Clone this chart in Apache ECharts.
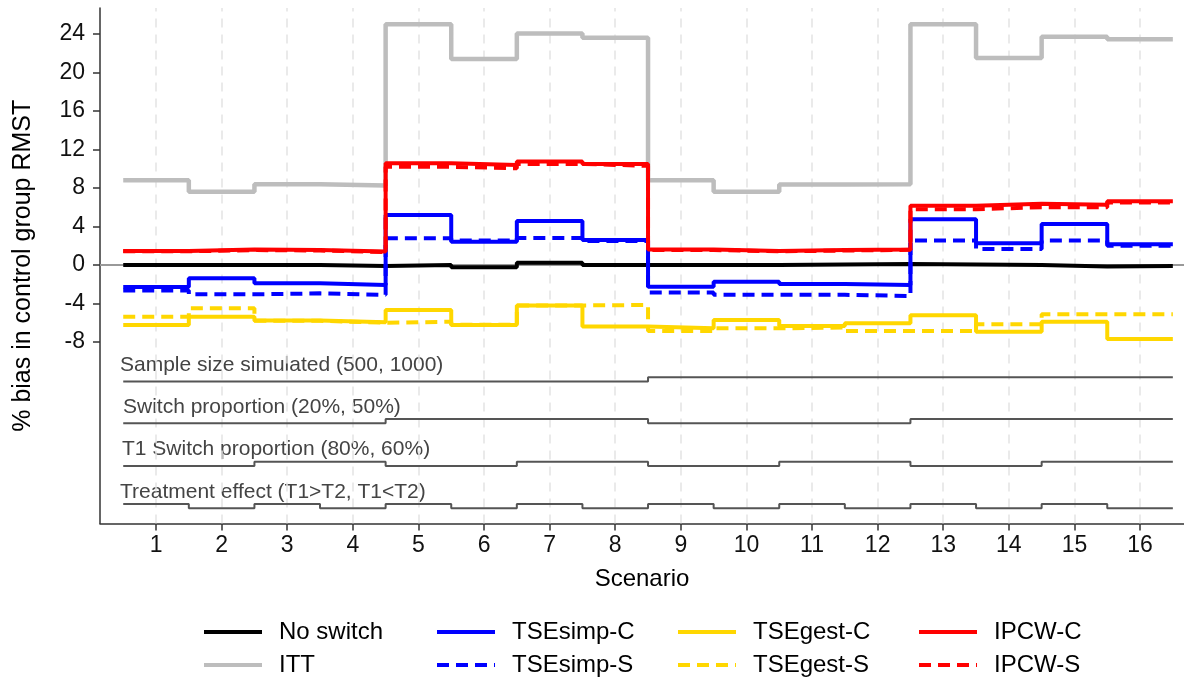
<!DOCTYPE html>
<html>
<head>
<meta charset="utf-8">
<script src="https://cdn.jsdelivr.net/npm/echarts@6.0.0/dist/echarts.min.js"></script>
<style>
html,body{margin:0;padding:0;background:#fff;}
#chart{width:1184px;height:681px;}
</style>
</head>
<body>
<div id="chart"></div>
<script>
// ---- data ----
const scenarios = [1,2,3,4,5,6,7,8,9,10,11,12,13,14,15,16];
const yTicks = [-8,-4,0,4,8,12,16,20,24];

const noSwitch = [0, 0, 0, -0.1, 0, -0.24, 0.24, 0, 0, 0, 0.05, 0.1, 0.05, 0, -0.15, -0.1];
const itt      = [8.8, 7.6, 8.4, 8.25, 25.0, 21.4, 24.05, 23.6, 8.8, 7.6, 8.35, 8.4, 25.0, 21.5, 23.7, 23.45];
const tseSimpC = [-2.3, -1.39, -1.9, -2.08, 5.2, 2.42, 4.57, 2.6, -2.25, -1.73, -1.97, -2.08, 4.75, 2.25, 4.26, 2.15];
const tseSimpS = [-2.65, -3.05, -2.95, -3.1, 2.77, 2.55, 2.8, 2.5, -2.87, -3.1, -3.1, -3.22, 2.55, 1.66, 2.55, 2.0];
const tseGestC = [-6.23, -5.37, -5.78, -5.96, -4.68, -6.23, -4.22, -6.4, -6.58, -5.71, -6.34, -6.06, -5.22, -6.93, -5.9, -7.7];
const tseGestS = [-5.37, -4.5, -5.8, -6.0, -5.9, -6.2, -4.2, -4.16, -6.86, -6.58, -6.5, -6.86, -6.86, -6.17, -5.13, -5.13];
const ipcwC    = [1.45, 1.6, 1.55, 1.39, 10.56, 10.39, 10.74, 10.49, 1.62, 1.45, 1.55, 1.62, 6.15, 6.35, 6.25, 6.62];
const ipcwS    = [1.42, 1.55, 1.5, 1.35, 10.2, 10.05, 10.5, 10.3, 1.55, 1.42, 1.5, 1.58, 5.8, 6.0, 6.0, 6.5];

// design factor levels (0 = lower step, 1 = raised step)
const sampleSizeLvl   = [0,0,0,0,0,0,0,0,1,1,1,1,1,1,1,1];
const switchPropLvl   = [0,0,0,0,1,1,1,1,0,0,0,0,1,1,1,1];
const t1SwitchPropLvl = [0,0,1,1,0,0,1,1,0,0,1,1,0,0,1,1];
const treatEffectLvl  = [1,0,1,0,1,0,1,0,1,0,1,0,1,0,1,0];
const factorLabels = [
  'Sample size simulated (500, 1000)',
  'Switch proportion (20%, 50%)',
  'T1 Switch proportion (80%, 60%)',
  'Treatment effect (T1>T2, T1<T2)'
];

// ---- helpers ----
function stepData(vals){
  const d = vals.map((v,i)=>[scenarios[i]-0.5, v]);
  d.push([scenarios[vals.length-1]+0.5, vals[vals.length-1]]);
  return d;
}
const FONT = 'Liberation Sans, Arial, sans-serif';
const DASH = [12, 7];

function mainSeries(name, vals, color, width, dashed, z){
  return {
    name: name, type: 'line', step: 'end', showSymbol: false, symbol: 'none',
    data: stepData(vals), silent: true, z: z,
    lineStyle: {color: color, width: width, type: dashed ? DASH : 'solid', cap: 'butt'},
    itemStyle: {color: color},
    emphasis: {disabled: true}
  };
}

const factorBase = [-12.1, -16.45, -20.88, -25.28];
const factorRise = 0.44;
function factorSeries(levels, k){
  return {
    type: 'line', step: 'end', showSymbol: false, symbol: 'none', silent: true, z: 2,
    data: stepData(levels.map(l => factorBase[k] + l*factorRise)),
    lineStyle: {color: '#555', width: 2},
    emphasis: {disabled: true}
  };
}

const chart = echarts.init(document.getElementById('chart'), null, {renderer: 'canvas'});

const ittSeries = mainSeries('ITT', itt, '#bdbdbd', 4.5, false, 2);
ittSeries.markLine = {
  silent: true, symbol: 'none', label: {show: false}, z: 1,
  data: scenarios.map(s => ({xAxis: s, lineStyle: {color: '#e3e3e3', width: 1.5, type: [9, 7]}}))
    .concat([{yAxis: 0, lineStyle: {color: '#999', width: 2, type: 'solid'}}])
};

const legendCommon = {
  orient: 'vertical', top: 620, height: 80, padding: 0,
  itemWidth: 58, itemHeight: 14, itemGap: 9,
  itemStyle: {opacity: 0, borderWidth: 0},
  lineStyle: {width: 4},
  textStyle: {fontSize: 24, color: '#000', fontFamily: FONT, lineHeight: 24, padding: [0,0,0,12]},
  selectedMode: false
};

const option = {
  animation: false,
  backgroundColor: '#fff',
  textStyle: {fontFamily: FONT},
  grid: {left: 100, right: 0, top: 8, bottom: 157.5, containLabel: false},
  legend: [
    Object.assign({}, legendCommon, {left: 202, data: ['No switch', 'ITT']}),
    Object.assign({}, legendCommon, {left: 435, data: ['TSEsimp-C', 'TSEsimp-S']}),
    Object.assign({}, legendCommon, {left: 676, data: ['TSEgest-C', 'TSEgest-S']}),
    Object.assign({}, legendCommon, {left: 917, data: ['IPCW-C', 'IPCW-S']})
  ],
  xAxis: {
    type: 'value', min: 0.146, max: 16.67,
    name: 'Scenario', nameLocation: 'middle', nameGap: 44,
    nameTextStyle: {fontSize: 24, color: '#000', fontFamily: FONT},
    axisLine: {show: true, onZero: false, lineStyle: {color: '#333', width: 1.5}},
    axisTick: {show: true, customValues: scenarios, length: 7, lineStyle: {color: '#333', width: 1.5}},
    axisLabel: {customValues: scenarios, fontSize: 23, color: '#111', margin: 11, fontFamily: FONT},
    splitLine: {show: false}
  },
  yAxis: {
    type: 'value', min: -26.86, max: 26.7,
    name: '% bias in control group RMST', nameLocation: 'middle', nameGap: 64, nameRotate: 90,
    nameTextStyle: {fontSize: 25, color: '#000', fontFamily: FONT},
    axisLine: {show: true, onZero: false, lineStyle: {color: '#333', width: 1.5}},
    axisTick: {show: true, customValues: yTicks, length: 7, lineStyle: {color: '#333', width: 1.5}},
    axisLabel: {customValues: yTicks, fontSize: 23, color: '#111', margin: 15, fontFamily: FONT},
    splitLine: {show: false}
  },
  graphic: factorLabels.map((t, k) => ({
    type: 'text', left: [120, 123, 122, 120][k], top: [355, 397, 439, 482][k], silent: true,
    style: {text: t, fontSize: 21, fill: '#444', fontFamily: FONT}
  })),
  series: [
    ittSeries,
    factorSeries(sampleSizeLvl, 0),
    factorSeries(switchPropLvl, 1),
    factorSeries(t1SwitchPropLvl, 2),
    factorSeries(treatEffectLvl, 3),
    mainSeries('No switch', noSwitch, '#000000', 4, false, 3),
    mainSeries('TSEsimp-C', tseSimpC, '#0000ff', 4, false, 4),
    mainSeries('TSEsimp-S', tseSimpS, '#0000ff', 4, true, 5),
    mainSeries('TSEgest-C', tseGestC, '#ffd700', 4, false, 4),
    mainSeries('TSEgest-S', tseGestS, '#ffd700', 4, true, 5),
    mainSeries('IPCW-C', ipcwC, '#ff0000', 4, false, 6),
    mainSeries('IPCW-S', ipcwS, '#ff0000', 4, true, 7)
  ]
};
chart.setOption(option);
</script>
</body>
</html>
